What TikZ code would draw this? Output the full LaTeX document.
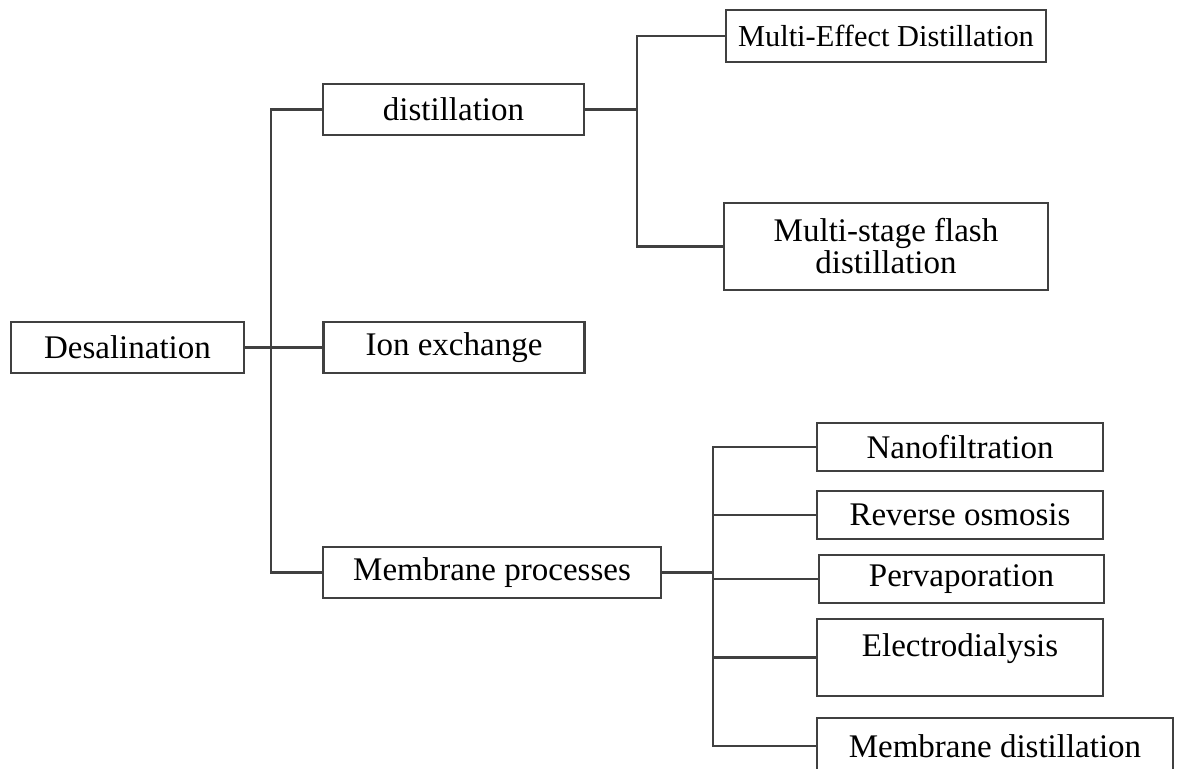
\documentclass[tikz,border=0pt]{standalone}
\usepackage{fontspec}
\setmainfont{Liberation Serif}
\usepackage{tikz}
\tikzset{
	procnode/.style = {
		rectangle,
		align=center,
		inner sep=0pt,
		draw=black!75,
		line width=1.1pt,
		fill=white,
		font=\fontsize{16.5}{16}\selectfont,
		minimum height=25.5pt
	},
	node_root/.style = {
		procnode,
		minimum width=116.5pt
	},
	node_main/.style = {
		procnode,
		minimum width=130.5pt
	},
	node_leaf/.style = {
		procnode,
		minimum width=143pt,
		minimum height=24pt
	},
	branch/.style = {
		draw=black!75,
		line width=1.2pt
	},
}

\begin{document}
\begin{tikzpicture}[x=0.5pt, y=-0.5pt]
\fill[white] (0,0) rectangle (1177,769);
\useasboundingbox (0,0) rectangle (1177,769);
\begin{scope}
\clip (0,0) rectangle (1177,769);
% root and first level
\node [node_root] (desal) at (127.5,347.5) {Desalination};
\node [node_main] (dist) at (453.5,109.5) {distillation};
\node [node_main] (ion) at (454,347.5) {Ion exchange};
\node [node_main, minimum width=169pt] (memb) at (492,572.5) {Membrane processes};
% distillation
\node [procnode, minimum width=160pt, minimum height=26pt, font=\fontsize{15.2}{16}\selectfont] (med) at (886,36) {Multi-Effect Distillation};
\node [procnode, minimum width=162pt, minimum height=43.5pt] (msf) at (886,246.5) {Multi-stage flash\\distillation};
% membrane processes
\node [node_leaf] (nano) at (960,447) {Nanofiltration};
\node [node_leaf] (ro) at (960,515) {Reverse osmosis};
\node [node_leaf, minimum width=142.5pt] (perv) at (961.5,579) {Pervaporation};
\node [node_leaf, minimum height=38.5pt, text height=11pt, text depth=12pt] (elec) at (960,657.5) {Electrodialysis};
\node [node_leaf, minimum width=178pt, minimum height=28pt] (md) at (995,746) {Membrane distillation};

\coordinate (j_root) at (271,347.5);
\coordinate (j_dist) at (637,109.5);
\coordinate (j_memb) at (713,572.5);

\draw [branch] (desal.east) -- (ion.west);
\draw [branch] (dist.west) -| (j_root) |- (memb.west);
\draw [branch] (dist.east) -- (j_dist);
\draw [branch] (med.west) -| (j_dist) |- (msf.west);
\draw [branch] (memb.east) -- (j_memb);
\draw [branch] (nano.west) -| (j_memb) |- (md.west);
\draw [branch] (j_memb) |- (ro.west);
\draw [branch] (j_memb) |- (perv.west);
\draw [branch] (j_memb) |- (elec.west);
\end{scope}
\end{tikzpicture}
\end{document}
